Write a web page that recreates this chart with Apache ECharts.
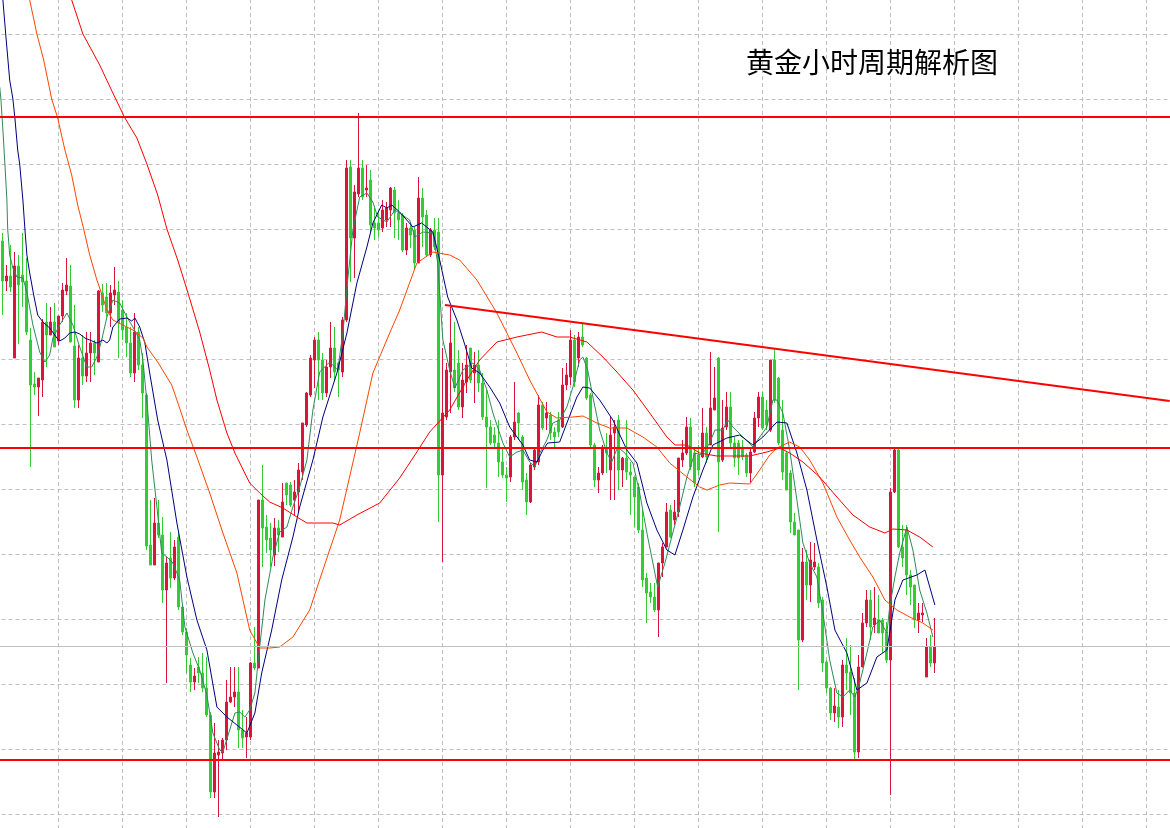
<!DOCTYPE html>
<html><head><meta charset="utf-8">
<script src="https://cdn.jsdelivr.net/npm/echarts/dist/echarts.min.js"></script>
<style>html,body{margin:0;padding:0;background:#fff}#c{width:1170px;height:828px}</style>
</head><body><div id="c"></div>
<script>
const chartTitle = '黄金小时周期解析图';
// hourly gold candles: [open, close, low, high]
const candles = [
[1975.9,1971.9,1968.5,1976.7],[1971.9,1972.4,1970.9,1973.5],[1972.4,1971.3,1970.8,1975.5],[1964.2,1973.4,1964.2,1974.8],
[1973.4,1971.5,1965.6,1974.5],[1972.5,1971.8,1969.3,1976.7],[1971.9,1966.8,1966.5,1974.2],[1966.0,1961.5,1953.3,1967.2],
[1961.6,1961.3,1960.5,1962.8],[1961.3,1962.2,1958.4,1962.2],[1962.0,1967.8,1960.3,1968.1],[1967.8,1966.5,1963.3,1969.7],
[1966.5,1967.8,1966.5,1969.3],[1967.8,1965.3,1965.3,1969.7],[1965.9,1968.4,1965.5,1968.4],[1968.4,1971.0,1967.8,1971.7],
[1970.9,1971.5,1970.5,1974.2],[1971.4,1965.8,1965.8,1973.5],[1965.4,1960.0,1959.2,1969.5],[1960.0,1964.2,1959.2,1965.5],
[1964.2,1962.4,1961.5,1966.5],[1962.4,1964.7,1961.8,1966.8],[1964.7,1965.7,1961.8,1966.8],[1965.7,1964.7,1962.5,1966.0],
[1963.8,1970.9,1963.8,1971.0],[1970.7,1969.5,1968.8,1971.6],[1970.3,1968.7,1968.3,1971.7],[1968.7,1970.7,1967.3,1971.5],
[1970.5,1971.0,1969.5,1973.3],[1970.8,1967.7,1964.2,1971.9],[1969.0,1967.0,1966.0,1970.0],[1967.3,1965.7,1964.3,1968.7],
[1965.7,1962.7,1962.3,1967.3],[1962.7,1966.8,1961.8,1968.7],[1966.8,1963.5,1963.0,1967.3],[1963.5,1960.7,1958.2,1964.7],
[1960.5,1945.4,1945.0,1960.7],[1945.5,1943.5,1943.5,1950.0],[1943.5,1947.7,1943.5,1950.2],[1947.7,1946.5,1946.2,1950.0],
[1946.5,1941.0,1939.7,1948.3],[1941.0,1943.7,1931.7,1944.3],[1944.2,1942.2,1941.2,1946.8],[1942.2,1945.3,1942.0,1946.0],
[1946.3,1939.3,1939.0,1946.7],[1939.3,1936.8,1936.5,1939.5],[1936.8,1934.5,1932.7,1937.2],[1933.5,1931.8,1930.8,1934.2],
[1931.8,1932.4,1931.0,1933.2],[1933.3,1932.7,1931.7,1934.3],[1932.7,1931.2,1930.8,1934.7],[1931.2,1928.5,1928.3,1934.3],
[1928.5,1920.8,1920.2,1928.8],[1920.8,1924.7,1920.2,1927.7],[1924.5,1924.8,1918.3,1926.0],[1924.7,1926.0,1924.0,1926.2],
[1926.0,1929.8,1925.0,1932.0],[1929.8,1930.3,1929.7,1933.3],[1930.3,1930.8,1929.3,1933.3],[1930.8,1927.0,1925.2,1933.3],
[1927.0,1926.2,1925.2,1929.0],[1926.3,1926.7,1924.2,1928.3],[1926.3,1933.7,1926.0,1933.8],[1933.7,1933.2,1933.0,1937.3],
[1933.2,1950.0,1933.2,1950.0],[1950.0,1947.2,1943.3,1953.5],[1947.3,1946.0,1944.7,1948.5],[1946.2,1945.0,1943.3,1947.7],
[1944.5,1947.2,1943.4,1948.2],[1947.2,1946.5,1944.8,1948.0],[1946.3,1949.8,1946.3,1951.7],[1951.7,1950.5,1949.5,1951.7],
[1951.5,1949.5,1949.3,1951.8],[1950.0,1950.8,1948.5,1952.0],[1950.8,1953.0,1948.8,1953.7],[1952.8,1957.7,1952.0,1957.7],
[1957.5,1960.7,1957.3,1960.8],[1960.5,1964.2,1960.3,1964.5],[1964.0,1966.0,1961.2,1966.3],[1966.0,1964.0,1960.0,1966.8],
[1964.0,1960.7,1960.0,1964.7],[1960.7,1963.3,1960.3,1964.0],[1963.3,1965.2,1962.2,1967.8],[1965.2,1962.8,1962.0,1967.3],
[1963.7,1963.0,1960.3,1963.8],[1962.8,1968.0,1962.3,1968.3],[1968.0,1983.2,1967.8,1984.0],[1983.3,1976.2,1971.8,1984.0],
[1976.2,1980.8,1972.2,1981.5],[1980.6,1983.2,1980.3,1988.7],[1983.2,1980.3,1980.0,1984.0],[1981.0,1981.2,1980.3,1983.5],
[1982.0,1977.5,1976.8,1983.0],[1977.7,1977.2,1976.0,1979.2],[1977.7,1977.0,1976.3,1978.7],[1977.2,1979.0,1976.8,1980.0],
[1978.0,1979.2,1977.3,1979.8],[1979.0,1981.2,1977.3,1981.3],[1981.0,1978.7,1976.2,1981.3],[1978.7,1978.0,1976.0,1980.0],
[1978.5,1975.0,1974.8,1978.7],[1975.0,1977.2,1974.5,1977.7],[1977.2,1976.5,1975.2,1977.7],[1977.0,1973.7,1973.0,1977.3],
[1973.7,1980.2,1973.7,1982.3],[1980.2,1978.3,1975.3,1981.2],[1978.5,1974.5,1974.3,1979.0],[1974.5,1977.0,1974.3,1977.2],
[1977.0,1975.3,1975.0,1978.2],[1976.8,1952.5,1947.8,1978.2],[1952.5,1958.7,1943.8,1965.2],[1958.3,1963.0,1958.0,1963.7],
[1962.8,1965.7,1958.7,1969.3],[1963.0,1961.2,1960.8,1967.8],[1963.7,1959.3,1959.0,1965.0],[1959.3,1962.0,1958.2,1963.7],
[1961.8,1963.5,1960.7,1965.5],[1965.2,1962.0,1961.7,1965.2],[1962.7,1963.5,1959.7,1964.8],[1963.5,1961.7,1960.8,1965.0],
[1961.7,1958.3,1958.0,1962.7],[1958.3,1957.3,1951.2,1961.0],[1957.3,1955.7,1955.5,1958.0],[1956.5,1955.7,1955.3,1957.3],
[1955.7,1953.8,1952.3,1958.0],[1953.8,1952.5,1952.2,1955.3],[1952.5,1952.2,1949.8,1953.3],[1952.3,1956.3,1951.8,1956.5],
[1956.3,1957.8,1956.0,1961.8],[1958.7,1957.7,1956.0,1958.8],[1956.3,1951.8,1951.0,1956.5],[1952.0,1949.8,1948.5,1952.7],
[1949.8,1953.5,1949.7,1953.7],[1953.3,1955.0,1953.0,1955.3],[1953.8,1959.5,1953.5,1960.5],[1959.5,1957.2,1957.0,1959.8],
[1958.2,1958.7,1957.0,1959.8],[1958.5,1956.7,1956.0,1958.8],[1956.8,1956.3,1955.3,1957.3],[1958.0,1956.8,1956.3,1958.8],
[1957.3,1961.5,1957.2,1963.2],[1961.5,1962.5,1961.0,1963.7],[1962.3,1966.0,1961.5,1967.0],[1966.0,1961.8,1961.3,1966.5],
[1964.2,1966.3,1963.3,1966.8],[1966.3,1965.5,1965.3,1967.7],[1964.2,1960.2,1960.0,1964.3],[1960.5,1955.5,1955.3,1960.7],
[1955.5,1952.0,1951.3,1955.7],[1952.0,1952.7,1950.7,1953.3],[1952.7,1955.3,1952.5,1955.5],[1955.2,1954.7,1952.7,1956.7],
[1953.0,1956.5,1950.0,1958.3],[1956.7,1957.3,1950.0,1958.0],[1958.0,1953.0,1951.0,1958.5],[1953.0,1954.2,1951.3,1954.3],
[1954.2,1952.8,1952.0,1958.0],[1952.8,1952.5,1948.5,1953.8],[1952.3,1950.3,1947.3,1952.3],[1951.3,1947.0,1946.7,1951.7],
[1947.0,1942.0,1941.3,1949.0],[1942.2,1940.7,1937.7,1942.7],[1940.8,1940.3,1939.7,1941.7],[1940.3,1939.0,1938.8,1941.7],
[1939.0,1943.7,1936.3,1943.7],[1943.7,1945.3,1942.3,1945.7],[1945.3,1948.8,1945.3,1949.7],[1949.0,1946.3,1946.2,1949.5],
[1948.0,1948.8,1947.5,1950.0],[1948.8,1954.2,1948.3,1954.2],[1954.0,1954.7,1953.3,1956.0],[1954.7,1957.3,1954.5,1958.3],
[1957.3,1953.3,1953.0,1958.2],[1954.7,1951.7,1951.3,1955.3],[1954.5,1953.0,1952.5,1955.5],[1954.3,1956.7,1954.2,1959.2],
[1956.7,1954.3,1953.7,1957.3],[1955.5,1959.2,1955.5,1964.8],[1959.0,1960.2,1959.0,1963.3],[1964.2,1953.8,1946.8,1964.3],
[1954.0,1957.2,1953.8,1960.0],[1957.3,1959.3,1957.0,1960.8],[1959.3,1955.7,1955.3,1960.8],[1955.7,1954.2,1953.3,1956.3],
[1955.7,1954.2,1952.5,1956.0],[1955.3,1954.3,1954.0,1956.0],[1954.5,1952.7,1952.3,1954.7],[1952.7,1954.8,1951.7,1955.2],
[1954.8,1958.2,1954.7,1958.8],[1958.2,1960.3,1957.3,1960.8],[1960.3,1957.2,1957.0,1960.8],[1959.0,1957.5,1957.0,1960.0],
[1957.0,1964.0,1956.8,1964.0],[1964.0,1960.0,1959.7,1965.2],[1962.2,1955.7,1955.5,1962.3],[1957.0,1952.8,1952.0,1960.0],
[1954.7,1951.0,1951.0,1954.8],[1952.7,1947.8,1946.7,1953.0],[1947.8,1946.5,1946.5,1948.7],[1947.0,1936.0,1931.0,1947.0],
[1936.0,1943.8,1935.8,1945.2],[1943.8,1941.5,1940.0,1945.0],[1941.5,1944.0,1939.8,1945.8],[1943.3,1943.8,1943.0,1945.7],
[1943.3,1939.7,1939.2,1943.7],[1940.0,1933.7,1932.8,1940.3],[1933.8,1931.2,1930.7,1934.0],[1931.2,1928.7,1928.0,1931.3],
[1928.7,1929.4,1927.8,1931.2],[1929.3,1928.3,1927.2,1931.0],[1928.3,1933.5,1927.3,1934.0],[1933.5,1932.7,1931.0,1936.2],
[1932.8,1930.7,1928.5,1935.5],[1930.7,1924.8,1924.0,1932.2],[1924.8,1933.3,1924.2,1934.5],[1933.3,1937.7,1933.3,1938.7],
[1937.7,1940.0,1937.3,1941.0],[1940.0,1937.3,1936.0,1941.0],[1937.5,1938.2,1936.7,1941.3],[1938.0,1936.7,1936.7,1940.5],
[1938.0,1936.7,1934.7,1938.2],[1936.8,1934.0,1933.7,1937.8],[1934.0,1950.8,1920.5,1951.2],[1950.8,1955.0,1950.7,1955.2],
[1955.0,1945.3,1945.2,1955.2],[1945.3,1944.2,1943.3,1947.5],[1947.0,1942.5,1940.5,1947.5],[1942.5,1941.3,1939.5,1943.0],
[1941.5,1938.0,1937.2,1941.5],[1938.0,1938.7,1936.7,1939.7],[1938.5,1938.7,1937.8,1939.7],[1932.3,1935.3,1932.3,1936.2],
[1935.3,1933.7,1933.3,1936.5],[1933.7,1935.3,1932.7,1938.2]
];
// moving averages: [bar index, price]
const maFast = [[-0.7,1991.3],[-0.4,1990.1],[0.1,1987.0],[0.6,1983.6],[1.1,1980.0],[1.3,1977.1],[1.8,1974.5],[2.6,1973.2],[3.6,1972.3],[5.1,1972.2],[6.1,1970.8],[7.6,1967.5],[9.3,1964.8],[10.6,1963.8],[11.8,1964.5],[12.6,1966.2],[14.3,1967.5],[16.1,1968.7],[17.6,1967.5],[19.3,1965.3],[21.1,1963.3],[22.3,1963.3],[23.6,1964.3],[24.8,1966.0],[26.1,1968.3],[27.6,1970.0],[29.3,1969.7],[31.1,1968.3],[32.6,1967.3],[34.3,1966.0],[35.1,1964.0],[36.3,1959.0],[37.3,1954.0],[38.6,1949.3],[39.8,1944.7],[41.1,1944.3],[42.6,1943.7],[44.3,1942.0],[45.6,1937.3],[47.6,1934.7],[49.3,1933.0],[51.1,1930.5],[52.6,1926.7],[54.3,1925.0],[55.1,1924.8],[56.8,1927.0],[58.1,1928.7],[59.3,1928.8],[60.6,1928.3],[61.8,1929.0],[63.1,1930.7],[64.3,1935.3],[65.6,1940.0],[67.6,1944.3],[69.3,1946.8],[71.1,1947.3],[72.6,1949.3],[74.3,1951.3],[76.1,1954.0],[77.6,1959.0],[79.3,1962.8],[81.8,1963.8],[83.8,1963.0],[85.1,1966.7],[86.3,1972.0],[87.6,1977.0],[89.3,1980.3],[91.1,1980.7],[92.6,1979.8],[93.8,1978.3],[96.1,1977.8],[98.1,1979.0],[101.8,1978.0],[103.1,1976.3],[105.1,1976.8],[107.6,1976.7],[108.8,1973.7],[110.1,1966.0],[111.8,1963.0],[113.1,1961.2],[115.1,1963.0],[117.6,1963.7],[119.3,1963.0],[121.1,1961.0],[122.6,1958.7],[125.1,1955.7],[126.8,1954.3],[128.6,1954.8],[130.1,1955.0],[131.8,1953.8],[133.1,1953.3],[134.3,1954.7],[136.1,1956.0],[137.6,1957.7],[139.3,1958.0],[141.1,1959.3],[142.6,1961.3],[144.3,1964.0],[145.1,1964.3],[146.3,1963.0],[147.6,1960.3],[149.3,1957.0],[151.1,1954.7],[152.3,1953.8],[153.8,1955.3],[155.6,1954.7],[157.6,1953.7],[159.3,1950.7],[161.1,1946.7],[162.6,1943.7],[163.8,1941.3],[165.6,1943.7],[167.3,1946.3],[169.3,1949.3],[171.1,1952.3],[173.1,1954.7],[174.8,1954.5],[176.8,1955.7],[178.1,1957.0],[180.1,1957.0],[181.3,1958.0],[182.6,1957.3],[185.1,1956.3],[187.6,1955.3],[189.3,1956.3],[191.1,1957.3],[192.6,1960.0],[193.6,1960.0],[195.1,1958.7],[196.8,1955.0],[198.6,1950.0],[200.1,1945.7],[201.8,1943.7],[203.6,1942.3],[205.1,1938.7],[206.8,1934.0],[208.6,1930.7],[210.1,1930.3],[211.8,1931.0],[213.1,1930.3],[214.3,1931.7],[216.1,1934.7],[217.6,1937.3],[219.3,1938.0],[221.1,1936.7],[221.8,1939.3],[223.1,1942.3],[224.3,1944.7],[226.1,1947.3],[227.6,1945.0],[229.3,1941.0],[231.1,1938.7],[232.6,1936.3]];
const maMid = [[0.1,2000.0],[0.8,1996.6],[1.8,1992.0],[2.6,1990.1],[3.1,1988.2],[3.8,1985.0],[4.3,1983.6],[5.1,1980.0],[5.6,1977.1],[6.1,1974.5],[6.8,1972.7],[7.8,1970.5],[8.8,1968.5],[10.1,1967.8],[11.8,1967.2],[13.6,1966.2],[14.3,1965.9],[15.6,1966.2],[16.8,1966.7],[18.1,1966.8],[19.3,1966.6],[20.6,1966.2],[21.8,1966.0],[23.6,1965.7],[25.1,1966.0],[26.1,1965.7],[26.8,1966.0],[27.6,1967.3],[29.3,1968.1],[31.1,1968.2],[32.3,1967.9],[33.1,1968.2],[34.3,1967.3],[35.6,1965.7],[36.8,1962.7],[38.8,1958.0],[41.1,1954.0],[43.6,1947.7],[46.1,1942.3],[48.6,1938.0],[51.1,1935.0],[53.6,1929.3],[56.1,1928.3],[58.6,1927.5],[61.1,1926.7],[63.1,1928.7],[64.8,1932.7],[67.3,1937.0],[69.8,1942.0],[72.6,1946.3],[74.3,1949.3],[77.6,1954.0],[80.1,1958.3],[83.6,1962.7],[86.1,1966.7],[88.6,1971.7],[91.1,1975.3],[92.6,1977.7],[94.8,1979.5],[96.1,1979.2],[97.3,1979.5],[99.3,1978.8],[102.6,1977.3],[104.8,1977.7],[107.6,1976.8],[109.3,1974.0],[111.3,1970.3],[113.6,1968.0],[115.6,1965.5],[117.3,1963.2],[119.3,1962.7],[121.8,1961.3],[124.3,1959.7],[126.8,1957.3],[130.1,1955.5],[131.8,1954.0],[133.6,1953.8],[135.1,1955.0],[136.3,1955.7],[139.3,1955.8],[141.1,1957.7],[143.6,1960.3],[145.1,1961.3],[146.8,1961.2],[149.3,1960.0],[152.6,1958.0],[156.1,1955.0],[158.6,1953.7],[161.1,1949.7],[163.6,1947.0],[166.1,1945.0],[168.1,1944.5],[170.1,1947.0],[172.6,1950.3],[175.1,1953.0],[177.6,1955.5],[181.1,1956.2],[184.3,1956.5],[187.6,1955.5],[190.1,1956.3],[193.6,1957.8],[196.1,1957.7],[198.6,1954.7],[201.1,1951.0],[203.6,1946.0],[206.1,1941.3],[208.1,1937.0],[211.1,1934.7],[213.6,1931.0],[216.1,1931.7],[218.6,1934.3],[221.1,1935.0],[223.1,1940.0],[225.1,1942.0],[228.6,1942.5],[230.6,1943.0],[233.1,1939.5]];
const maSlow = [[6.8,2000.0],[8.6,1996.6],[10.3,1994.0],[12.3,1990.1],[13.8,1988.2],[15.6,1985.0],[17.3,1982.5],[18.8,1979.5],[20.3,1977.1],[21.8,1974.5],[23.6,1972.0],[24.3,1971.2],[26.1,1969.0],[27.6,1968.0],[30.1,1967.5],[32.6,1967.0],[35.1,1966.2],[36.1,1965.3],[38.8,1963.8],[42.3,1961.5],[43.6,1960.0],[46.1,1957.0],[48.6,1954.3],[51.8,1950.7],[55.1,1946.7],[58.6,1942.7],[61.8,1937.0],[64.3,1935.2],[66.8,1935.2],[69.3,1935.3],[72.6,1936.3],[76.8,1939.0],[80.1,1943.0],[84.3,1948.0],[89.3,1956.7],[92.6,1962.7],[96.8,1966.7],[99.3,1969.0],[103.6,1973.7],[107.6,1974.8],[111.8,1974.5],[114.3,1974.0],[118.6,1972.0],[123.6,1968.7],[128.6,1964.7],[131.8,1962.0],[136.1,1958.8],[138.6,1958.2],[142.6,1958.3],[145.1,1958.4],[148.6,1957.7],[151.8,1957.2],[156.1,1957.2],[160.1,1956.3],[163.6,1955.3],[166.8,1953.7],[171.1,1952.3],[174.3,1951.3],[176.1,1951.0],[179.3,1951.5],[181.8,1951.7],[186.8,1951.6],[189.3,1953.0],[191.8,1954.5],[193.6,1955.2],[196.8,1955.8],[199.3,1955.3],[201.8,1954.0],[205.1,1951.7],[208.6,1948.3],[211.8,1946.0],[214.3,1944.3],[217.6,1942.3],[220.6,1940.0],[223.6,1939.0],[226.8,1938.3],[230.1,1937.7],[232.6,1937.0]];
const maLong = [[17.3,2000.0],[20.1,1996.6],[24.3,1993.5],[28.3,1990.1],[30.6,1988.2],[33.6,1986.2],[36.1,1983.6],[38.8,1980.5],[41.1,1977.1],[43.8,1974.0],[46.3,1970.8],[49.3,1966.8],[51.8,1963.0],[53.6,1960.0],[56.1,1956.7],[58.1,1954.7],[61.8,1951.7],[64.3,1950.7],[66.8,1949.8],[70.1,1949.2],[73.6,1948.3],[76.1,1947.7],[82.6,1947.7],[84.3,1947.5],[88.6,1948.5],[94.3,1949.7],[99.3,1952.2],[103.1,1954.5],[106.8,1956.8],[111.8,1959.0],[116.1,1962.0],[119.3,1964.0],[123.6,1965.8],[128.6,1966.3],[134.8,1966.8],[138.6,1966.3],[141.8,1966.3],[146.1,1965.8],[150.1,1964.3],[153.6,1962.8],[157.6,1961.0],[161.8,1958.7],[166.1,1956.3],[168.1,1955.5],[171.1,1955.5],[174.3,1954.7],[178.6,1954.4],[186.8,1954.4],[191.1,1954.8],[194.3,1955.2],[196.8,1954.7],[200.1,1953.8],[204.3,1952.3],[208.6,1950.3],[212.6,1948.5],[216.8,1947.3],[220.6,1946.7],[222.6,1947.1],[226.1,1947.0],[229.3,1946.3],[232.6,1945.3]];
const levels = [1988.3, 1955.2, 1924.0];
const bidPrice = 1935.4;
const trendLine = [[110.6, 1969.5], [291.8, 1959.9]];

const LEAD = 2; // empty slots before the first bar
const pos = k => k + LEAD;
const UP = '#DC143C', DOWN = '#32CD32';

const chart = echarts.init(document.getElementById('c'), null, {renderer: 'canvas'});
const gridLine = {show: true, lineStyle: {color: '#c0c0c0', width: 1, type: [4, 3]}};
const lineS = (name, data, color) => ({
  name, type: 'line', data: data.map(([k, v]) => [pos(k), v]), symbol: 'none', z: 3,
  lineStyle: {color, width: 1}, silent: true, animation: false
});
chart.setOption({
  animation: false,
  backgroundColor: '#ffffff',
  title: {text: chartTitle, left: 741, top: 43,
    textStyle: {fontSize: 28, fontWeight: 'normal', color: '#000', fontFamily: 'Noto Sans CJK SC'}},
  grid: {left: -5.5, right: 0, top: -1, bottom: -51, outerBoundsMode: 'none', containLabel: false},
  xAxis: {type: 'value', min: 0, max: 293.875, interval: 16,
    axisLine: {show: false}, axisTick: {show: false}, axisLabel: {show: false}, splitLine: gridLine},
  yAxis: {type: 'value', min: 1912.1, max: 2000.1, interval: 6.5,
    axisLine: {show: false}, axisTick: {show: false}, axisLabel: {show: false}, splitLine: gridLine},
  series: [
    {type: 'candlestick', z: 2, barWidth: 2, silent: true,
     data: candles.map((c, i) => [pos(i)].concat(c)),
     itemStyle: {color: UP, color0: DOWN, borderColor: UP, borderColor0: DOWN, borderWidth: 1},
     markLine: {silent: true, symbol: 'none', animation: false, label: {show: false},
       lineStyle: {color: '#ff0000', width: 2, type: 'solid'},
       data: levels.map(v => ({yAxis: v}))
         .concat([{yAxis: bidPrice, lineStyle: {color: '#c0c0c0', width: 1}}])
         .concat([[{coord: [pos(trendLine[0][0]), trendLine[0][1]]}, {coord: [pos(trendLine[1][0]), trendLine[1][1]]}]])
     }},
    lineS('MA5', maFast, '#2E8B57'),
    lineS('MA10', maMid, '#000080'),
    lineS('MA30', maSlow, '#FF4500'),
    lineS('MA60', maLong, '#FF0000')
  ]
});
</script></body></html>
